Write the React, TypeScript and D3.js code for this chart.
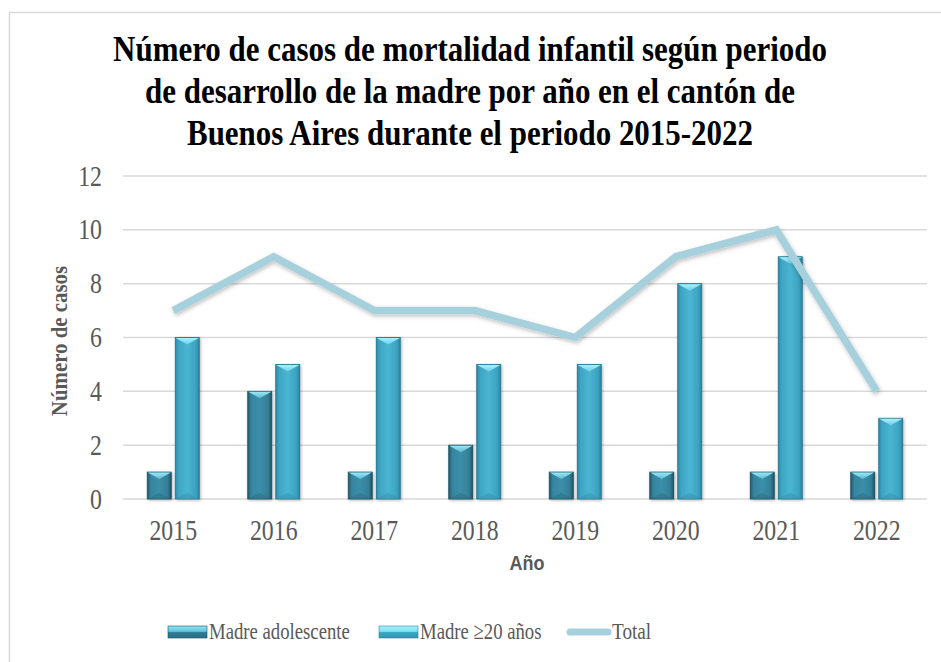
import React from "react";
import * as d3 from "d3";

const years = ["2015", "2016", "2017", "2018", "2019", "2020", "2021", "2022"];
const adolescente = [1, 4, 1, 2, 1, 1, 1, 1];
const adulta = [6, 5, 6, 5, 5, 8, 9, 3];
const total = [7, 9, 7, 7, 6, 9, 10, 4];
const yTicks = [0, 2, 4, 6, 8, 10, 12];
const titleLines = [
  "Número de casos de mortalidad infantil según periodo",
  "de desarrollo de la madre por año en el cantón de",
  "Buenos Aires durante el periodo 2015-2022",
];
const seriesNames = ["Madre adolescente", "Madre ≥20 años", "Total"];

const W = 941;
const H = 662;
const left = 123;
const right = 927;
const top = 176;
const bottom = 499;

const SERIF = "'Liberation Serif'";
const SANS = "'Liberation Sans'";

function ST({
  x,
  y,
  s,
  size,
  children,
  anchor = "start",
  bold = false,
  fill = "#595959",
  family = SERIF,
  rotate = 0,
}: {
  x: number;
  y: number;
  s: number;
  size: number;
  children: React.ReactNode;
  anchor?: string;
  bold?: boolean;
  fill?: string;
  family?: string;
  rotate?: number;
}) {
  return (
    <text
      transform={`translate(${x},${y}) rotate(${rotate}) scale(${s},1)`}
      textAnchor={anchor}
      fontSize={size}
      fontWeight={bold ? "bold" : "normal"}
      fill={fill}
      style={{ fontFamily: family }}
    >
      {children}
    </text>
  );
}

function Bar({ x, y, w, h, kind }: { x: number; y: number; w: number; h: number; kind: number }) {
  const grad = kind === 0 ? "url(#gAdo)" : "url(#gAdu)";
  const bevel = kind === 0 ? "url(#gBevA)" : "url(#gBevB)";
  const b = Math.min(6, h / 2);
  return (
    <g filter="url(#shadow)">
      <rect x={x} y={y} width={w} height={h} fill={grad} stroke={kind === 0 ? "#1d4d5c" : "#22708a"} strokeWidth={0.8} />
      <polygon points={`${x + 0.5},${y + 0.5} ${x + w - 0.5},${y + 0.5} ${x + w / 2},${y + b + 1}`} fill={bevel} />
      <polygon
        points={`${x + 0.5},${y + h - 0.5} ${x + w - 0.5},${y + h - 0.5} ${x + w / 2},${y + h - b}`}
        fill={kind === 0 ? "#2c7287" : "#3597b3"}
        opacity={0.6}
      />
    </g>
  );
}

export default function App() {
  const x0 = d3.scaleBand<string>().domain(years).range([left, right]);
  const y = d3.scaleLinear().domain([0, 12]).range([bottom, top]);
  const barW = 24;
  const gap = 4;
  const line = d3
    .line<number>()
    .x((_, i) => (x0(years[i]) as number) + x0.bandwidth() / 2)
    .y((d) => y(d));

  return (
    <svg width={W} height={H} style={{ position: "fixed", left: 0, top: 0, background: "#fff" }}>
      <defs>
        <linearGradient id="gAdo" x1="0" x2="1" y1="0" y2="0">
          <stop offset="0" stopColor="#23596a" />
          <stop offset="0.15" stopColor="#3685a0" />
          <stop offset="0.5" stopColor="#3b8fa9" />
          <stop offset="0.85" stopColor="#347f97" />
          <stop offset="1" stopColor="#1f5364" />
        </linearGradient>
        <linearGradient id="gAdu" x1="0" x2="1" y1="0" y2="0">
          <stop offset="0" stopColor="#2c8ba8" />
          <stop offset="0.15" stopColor="#3ea6c4" />
          <stop offset="0.5" stopColor="#4ab5d2" />
          <stop offset="0.85" stopColor="#3ca3c1" />
          <stop offset="1" stopColor="#2a86a2" />
        </linearGradient>
        <linearGradient id="gBevA" x1="0" x2="0" y1="0" y2="1">
          <stop offset="0" stopColor="#9ae8f8" />
          <stop offset="1" stopColor="#5cb8d0" />
        </linearGradient>
        <linearGradient id="gBevB" x1="0" x2="0" y1="0" y2="1">
          <stop offset="0" stopColor="#a8f0fc" />
          <stop offset="1" stopColor="#6cd0e6" />
        </linearGradient>
        <linearGradient id="gLegA" x1="0" x2="0" y1="0" y2="1">
          <stop offset="0" stopColor="#8fe6f7" />
          <stop offset="0.45" stopColor="#5fc3db" />
          <stop offset="0.55" stopColor="#2f7b91" />
          <stop offset="1" stopColor="#2a6f84" />
        </linearGradient>
        <linearGradient id="gLegB" x1="0" x2="0" y1="0" y2="1">
          <stop offset="0" stopColor="#a3f3fd" />
          <stop offset="0.45" stopColor="#7ee0f2" />
          <stop offset="0.55" stopColor="#3da5c2" />
          <stop offset="1" stopColor="#3595b2" />
        </linearGradient>
        <filter id="shadow" x="-30%" y="-10%" width="160%" height="130%">
          <feDropShadow dx="1" dy="1" stdDeviation="1.5" floodColor="#000" floodOpacity="0.3" />
        </filter>
        <filter id="lshadow" x="-10%" y="-10%" width="120%" height="130%">
          <feDropShadow dx="1" dy="2" stdDeviation="2" floodColor="#000" floodOpacity="0.25" />
        </filter>
      </defs>

      <rect x={9.5} y={12.5} width={W + 20} height={H + 20} fill="#fff" stroke="#d9d9d9" strokeWidth={1.5} />

      {titleLines.map((t, i) => (
        <ST key={i} x={470} y={61 + i * 42} s={0.86} size={36} anchor="middle" bold fill="#000">
          {t}
        </ST>
      ))}

      {yTicks.map((t) => (
        <g key={t}>
          <line x1={left} x2={right} y1={y(t)} y2={y(t)} stroke="#d9d9d9" strokeWidth={1.5} />
          <ST x={102} y={y(t) + 9.5} s={0.82} size={29} anchor="end">
            {t}
          </ST>
        </g>
      ))}

      <ST x={67} y={341} s={0.87} size={24} anchor="middle" bold rotate={-90}>
        Número de casos
      </ST>

      {years.map((yr, i) => {
        const cx = (x0(yr) as number) + x0.bandwidth() / 2;
        return (
          <g key={yr}>
            <Bar x={cx - gap / 2 - barW} y={y(adolescente[i])} w={barW} h={y(0) - y(adolescente[i])} kind={0} />
            <Bar x={cx + gap / 2} y={y(adulta[i])} w={barW} h={y(0) - y(adulta[i])} kind={1} />
            <ST x={cx} y={540} s={0.82} size={29} anchor="middle">
              {yr}
            </ST>
          </g>
        );
      })}

      <path d={line(total) || ""} fill="none" stroke="#a7d0dd" strokeWidth={7.5} strokeLinejoin="miter" filter="url(#lshadow)" />

      <ST x={527} y={570} s={0.9} size={20} anchor="middle" bold family={SANS}>
        Año
      </ST>

      <g>
        <rect x={168} y={626} width={39} height={12} fill="url(#gLegA)" stroke="#1f5364" strokeWidth={0.6} />
        <ST x={209} y={639} s={0.78} size={24}>
          {seriesNames[0]}
        </ST>
        <rect x={379} y={626} width={39} height={12} fill="url(#gLegB)" stroke="#2a86a2" strokeWidth={0.6} />
        <ST x={420} y={639} s={0.78} size={24}>
          {seriesNames[1]}
        </ST>
        <line x1={570} x2={608} y1={632} y2={632} stroke="#a7d0dd" strokeWidth={7} strokeLinecap="round" />
        <ST x={612} y={639} s={0.8} size={24}>
          {seriesNames[2]}
        </ST>
      </g>
    </svg>
  );
}
